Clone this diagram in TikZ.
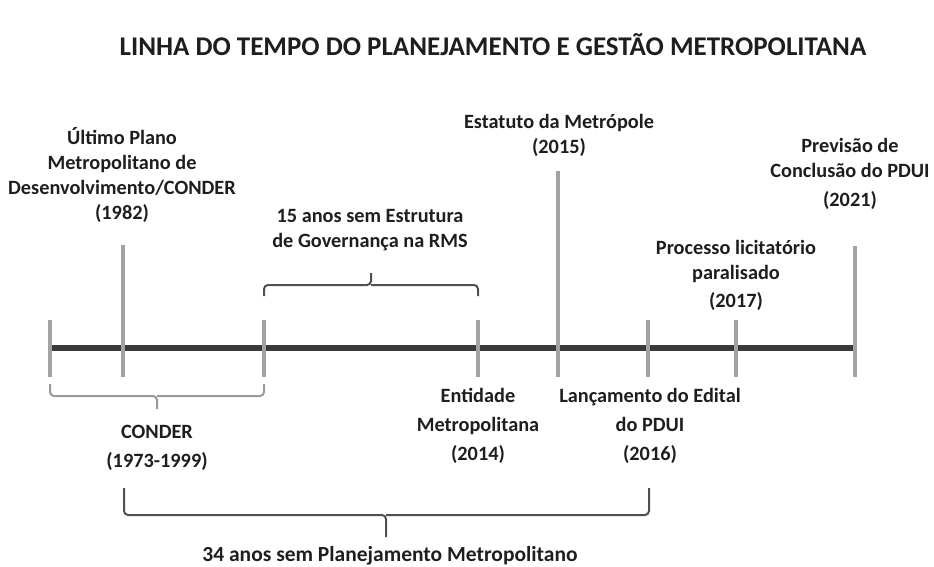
\documentclass[tikz,border=0pt]{standalone}
\usepackage{fontspec}
\setmainfont{Carlito}
\definecolor{txt}{HTML}{1E1E1E}
\definecolor{axis}{HTML}{3A3A3A}
\definecolor{tk}{HTML}{A3A3A3}
\definecolor{brdark}{HTML}{505050}
\definecolor{brlight}{HTML}{9A9A9A}
\tikzset{
  lbl/.style={font=\bfseries\fontsize{20.3}{25}\selectfont, align=center, text=txt, inner sep=0pt},
  biglbl/.style={font=\bfseries\fontsize{21.5}{25}\selectfont, align=center, text=txt, inner sep=0pt},
  titlestyle/.style={font=\bfseries\fontsize{27}{30}\selectfont, text=txt, inner sep=0pt},
  axisline/.style={draw=axis, line width=6pt},
  tkline/.style={draw=tk, line width=4.2pt},
  bracedark/.style={draw=brdark, line width=2pt, rounded corners=4pt},
  bracelight/.style={draw=brlight, line width=2pt, rounded corners=4pt},
}
\begin{document}
\begin{tikzpicture}[x=1pt,y=-1pt]
\useasboundingbox (0,0) rectangle (934,567);
% title
\node[titlestyle] (title) at (493,45) {LINHA DO TEMPO DO PLANEJAMENTO E GESTÃO METROPOLITANA};
% axis
\coordinate (a0) at (50,348);
\coordinate (a1) at (855,348);
\draw[axisline] (a0) -- (a1);
% ticks
\foreach \n/\x/\t in {t1973/50/320, t1982/123/245, t1999/264/320, t2014/478/320, t2015/558/171, t2016/648/320, t2017/736/320, t2021/855/246}{
  \coordinate (\n top) at (\x,\t);
  \coordinate (\n bot) at (\x,377);
  \draw[tkline] (\n top) -- (\n bot);
}
% top brace (15 anos)
\coordinate (b1l) at (264,296);
\coordinate (b1m) at (371,285);
\coordinate (b1tip) at (371,273);
\coordinate (b1r) at (478,296);
\draw[bracedark] (b1l) |- (b1m) -- (b1tip);
\draw[bracedark] (b1m) -| (b1r);
% CONDER brace
\coordinate (b2l) at (50,384);
\coordinate (b2m) at (157,396);
\coordinate (b2tip) at (157,409);
\coordinate (b2r) at (264,384);
\draw[bracelight] (b2l) |- (b2m) -- (b2tip);
\draw[bracelight] (b2m) -| (b2r);
% 34 anos brace
\coordinate (b3l) at (124,488);
\coordinate (b3m) at (386,515);
\coordinate (b3tip) at (386,537);
\coordinate (b3r) at (649,488);
\draw[bracedark] (b3l) |- (b3m) -- (b3tip);
\draw[bracedark] (b3m) -| (b3r);
% labels
\node[lbl] (l1982) at (122,175) {Último Plano\\Metropolitano de\\Desenvolvimento/CONDER\\(1982)};
\node[lbl] (l15) at (370,230.5) {15 anos sem Estrutura\\de Governança na RMS};
\node[lbl] (l2015) at (559,135.5) {Estatuto da Metrópole\\(2015)};
\node[lbl] (l2021) at (850,173.5) {Previsão de\\Conclusão do PDUI\\[4pt](2021)};
\node[lbl] (l2017) at (736,275) {Processo licitatório\\paralisado\\[3pt](2017)};
\node[lbl] (l2014) at (478,426) {Entidade\\[4pt]Metropolitana\\[4pt](2014)};
\node[lbl] (l2016) at (650,426) {Lançamento do Edital\\[4pt]do PDUI\\[4pt](2016)};
\node[lbl] (lconder) at (157,448) {CONDER\\[4pt](1973-1999)};
\node[biglbl] (l34) at (390,556) {34 anos sem Planejamento Metropolitano};
\end{tikzpicture}
\end{document}
